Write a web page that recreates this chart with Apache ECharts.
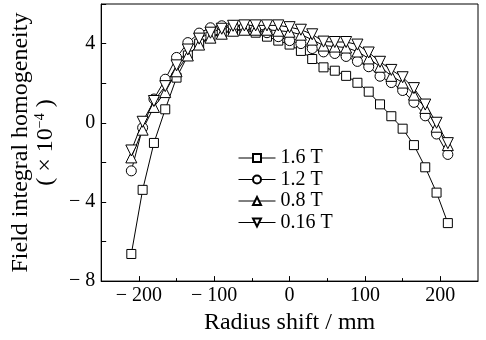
<!DOCTYPE html>
<html><head><meta charset="utf-8">
<script src="https://cdn.jsdelivr.net/npm/echarts@6/dist/echarts.min.js"></script>
<style>html,body{margin:0;padding:0;background:#fff}#c{width:486px;height:340px}</style>
</head><body><div id="c"></div>
<script>
const radius = [-210,-195,-180,-165,-150,-135,-120,-105,-90,-75,-60,-45,-30,-15,0,15,30,45,60,75,90,105,120,135,150,165,180,195,210];
const t16 = [-6.63,-3.39,-1.02,0.68,2.28,3.4,4.0,4.35,4.55,4.7,4.7,4.55,4.35,4.15,3.95,3.63,3.22,2.8,2.63,2.37,2.02,1.57,0.93,0.33,-0.3,-1.13,-2.25,-3.53,-5.07];
const t12 = [-2.43,-0.25,1.2,2.2,3.3,4.05,4.53,4.8,4.9,4.9,4.85,4.7,4.55,4.35,4.15,4.0,3.75,3.58,3.5,3.35,3.1,2.83,2.35,2.03,1.63,1.03,0.35,-0.57,-1.6];
const t08 = [-1.75,-0.35,0.8,1.55,2.6,3.4,3.95,4.3,4.5,4.65,4.7,4.7,4.7,4.65,4.6,4.45,4.2,3.9,3.85,3.8,3.6,3.25,2.83,2.37,2.03,1.42,0.75,-0.2,-1.13];
const t016 = [-1.4,0.05,1.1,1.85,2.9,3.7,4.25,4.55,4.75,4.9,4.92,4.92,4.92,4.92,4.83,4.7,4.47,4.1,4.08,4.08,3.95,3.55,3.08,2.67,2.3,1.75,0.92,0.0,-1.03];
const seriesNames = ['1.6 T','1.2 T','0.8 T','0.16 T'];
const xMajorTicks = [-200,-100,0,100,200];
const xMinorTicks = [-150,-50,50,150];
const yLabelTicks = [4,0,-4,-8];

const F = 'Liberation Serif, Times New Roman, serif';
const fmt = v => v < 0 ? '\u2212 ' + Math.abs(v) : String(v);
const pairs = arr => radius.map((x,i)=>[x,arr[i]]);
const mk = (name, data, symbol, size, rot) => ({
  name, type:'line', data: pairs(data), symbol, symbolSize: size, symbolRotate: rot||0,
  lineStyle:{color:'#000', width:1}, itemStyle:{color:'#fff', borderColor:'#000', borderWidth:1},
  animation:false, z: 2
});
const chart = echarts.init(document.getElementById('c'));
chart.setOption({
  animation:false,
  grid:{left:101, right:8, top:4, bottom:57, show:true, borderColor:'#000', borderWidth:1},
  legend:{orient:'vertical', left:238, top:148, padding:0, itemWidth:37, itemHeight:10, itemGap:1.5,
    lineStyle:{width:1, color:'#000'},
    textStyle:{fontFamily:F, fontSize:20, color:'#000', lineHeight:20},
    data: seriesNames},
  xAxis:[{type:'value', min:-250, max:250, 
    axisLine:{onZero:false, lineStyle:{color:'#000'}},
    axisTick:{inside:true, length:5, customValues:xMajorTicks, lineStyle:{color:'#000'}},
    axisLabel:{customValues:xMajorTicks, formatter:fmt, fontFamily:F, fontSize:20, color:'#000', margin:5},
    splitLine:{show:false},
    name:'Radius shift / mm', nameLocation:'middle', nameGap:27,
    nameTextStyle:{fontFamily:F, fontSize:24, color:'#000'}},
   {type:'value', min:-250, max:250, position:'bottom',
    axisLine:{show:false, onZero:false},
    axisTick:{inside:true, length:3, customValues:xMinorTicks, lineStyle:{color:'#000'}},
    axisLabel:{show:false}, splitLine:{show:false}}],
  yAxis:{type:'value', min:-8, max:6, interval:2,
    axisLine:{show:true, onZero:false, lineStyle:{color:'#000'}},
    axisTick:{show:true, inside:true, length:5, lineStyle:{color:'#000'}},
    axisLabel:{formatter: v => yLabelTicks.includes(v) ? fmt(v) : '', fontFamily:F, fontSize:20, color:'#000', margin:6},
    splitLine:{show:false},
    name:'{a|Field integral homogeneity}\n{a|( \u00d7 10}{s|\u22124}{a| )}', nameLocation:'middle', nameGap:33,
    nameTextStyle:{fontFamily:F, fontSize:24, color:'#000', lineHeight:25,
      rich:{a:{fontFamily:F, fontSize:24, color:'#000', lineHeight:25},
            s:{fontFamily:F, fontSize:14, color:'#000', verticalAlign:'top', lineHeight:25, padding:[0,0,10,0]}}}},
  series:[
    mk(seriesNames[0], t16, 'rect', 9),
    mk(seriesNames[1], t12, 'circle', 10),
    mk(seriesNames[2], t08, 'triangle', 11),
    mk(seriesNames[3], t016, 'triangle', 11, 180)
  ]
});
</script></body></html>
